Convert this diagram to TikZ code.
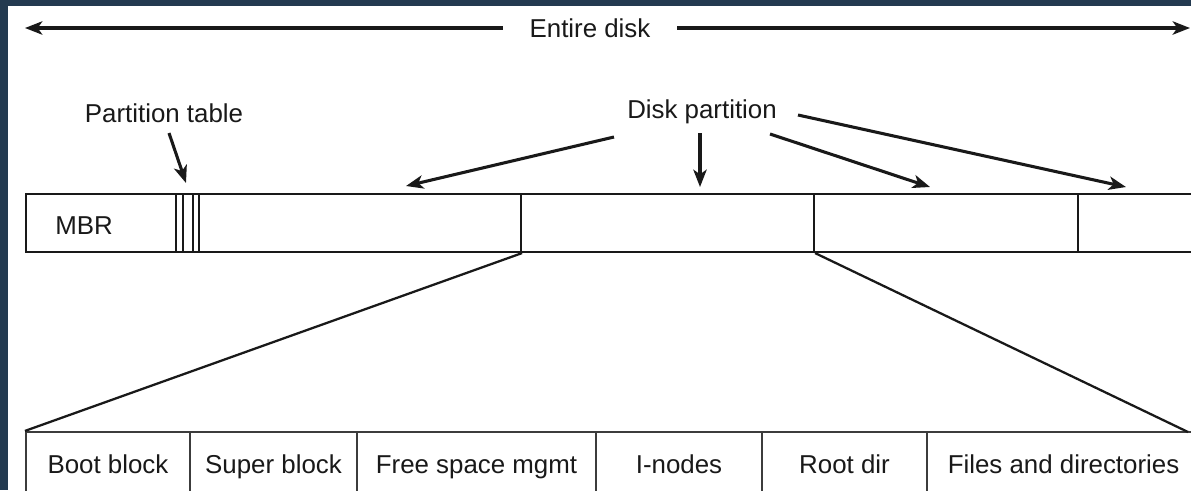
\documentclass[tikz,border=0pt]{standalone}
\usepackage{fontspec}
\setmainfont{Liberation Sans}
\usetikzlibrary{arrows.meta}
\definecolor{bgblue}{RGB}{35,58,80}
\definecolor{ink}{RGB}{25,25,25}
\begin{document}
\begin{tikzpicture}[x=0.75pt,y=-0.75pt,
  lbl/.style={font=\fontsize{19.4}{23}\selectfont, text=ink, inner sep=0pt},
  seg/.style={draw=ink, line width=1.6pt, inner sep=0pt, minimum height=43.5pt},
  cell/.style={draw=ink!85, line width=1.6pt, inner sep=0pt, minimum height=46.5pt,
    text height=18pt, text depth=3pt,
    font=\fontsize{19.4}{23}\selectfont, text=ink},
  arr/.style={draw=ink, line width=2.3pt, -{Stealth[length=13pt,width=10pt,inset=3.5pt]}},
  zoomline/.style={draw=ink, line width=1.7pt}]
\clip (0,0) rectangle (1191,490);
\fill[bgblue] (0,0) rectangle (1191,490);
\fill[white] (8,6) rectangle (1195,495);

% top bar: disk partitions
\node[seg, minimum width=371.25pt] (s1) at (273.5,223) {};
\node[seg, minimum width=219.75pt] (s2) at (667.5,223) {};
\node[seg, minimum width=198pt] (s3) at (946,223) {};
\node[seg, minimum width=91.5pt] (s4) at (1139,223) {};
\node[lbl] (mbr) at (84,226) {MBR};
\foreach \xx in {176,183,193,199}
  \draw[ink, line width=1.4pt] (\xx,194) -- (\xx,252);

% bottom row: file system layout
\node[cell, minimum width=123pt] (b1) at (108,463) {Boot block};
\node[cell, minimum width=125.25pt] (b2) at (273.5,463) {Super block};
\node[cell, minimum width=179.25pt] (b3) at (476.5,463) {Free space mgmt};
\node[cell, minimum width=124.5pt] (b4) at (679,463) {I-nodes};
\node[cell, minimum width=123.75pt] (b5) at (844.5,463) {Root dir};
\node[cell, minimum width=204.75pt] (b6) at (1063.5,463) {Files and directories};

% zoom lines
\coordinate (zr) at (1188,432);
\draw[zoomline] (s1.south east) -- (b1.north west);
\draw[zoomline] (s2.south east) -- (zr);

% entire disk
\node[lbl, inner xsep=20pt] (ed) at (590,28) {Entire disk};
\coordinate (edl) at (25,28);
\coordinate (edr) at (1190,28);
\draw[arr] (ed.west) -- (edl);
\draw[arr] (ed.east) -- (edr);

% partition table
\node[lbl] (pt) at (164,113) {Partition table};
\coordinate (pta) at (169,133);
\coordinate (ptb) at (186,183);
\draw[arr] (pta) -- (ptb);

% disk partition
\node[lbl] (dp) at (702,112) {Disk partition};
\coordinate (d1a) at (614,137);
\coordinate (d1b) at (406,186);
\coordinate (d2a) at (700,133);
\coordinate (d2b) at (700,187);
\coordinate (d3a) at (770,134);
\coordinate (d3b) at (930,187);
\coordinate (d4a) at (798,115);
\coordinate (d4b) at (1126,187);
\draw[arr] (d1a) -- (d1b);
\draw[arr] (d2a) -- (d2b);
\draw[arr] (d3a) -- (d3b);
\draw[arr] (d4a) -- (d4b);
\end{tikzpicture}
\end{document}
